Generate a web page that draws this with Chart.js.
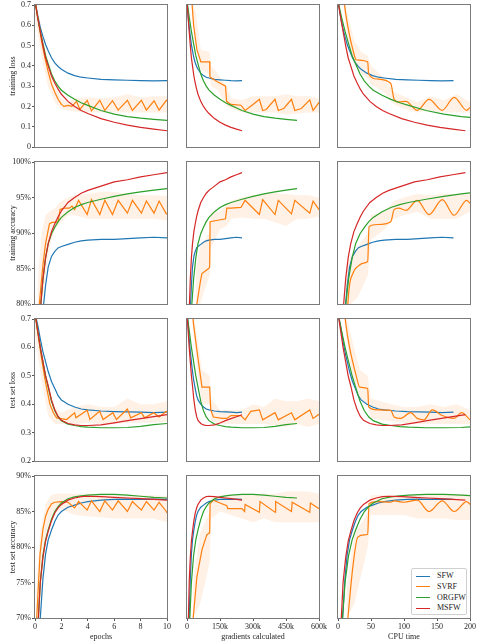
<!DOCTYPE html>
<html>
<head>
<meta charset="utf-8">
<script src="https://cdn.jsdelivr.net/npm/chart.js@4.4.1/dist/chart.umd.min.js"></script>
<style>
  body { margin: 0; background: #fff; width: 479px; height: 642px; position: relative; overflow: hidden;
         font-family: 'Liberation Serif', 'Times New Roman', serif; }
  canvas { position: absolute; }
  #legend { position: absolute; left: 411px; top: 568px; width: 56px; height: 47px; box-sizing: border-box;
            border: 1px solid #d0d0d0; border-radius: 2px; background: rgba(255,255,255,0.85);
            font-size: 8px; color: #222; font-weight: normal; padding: 2px 0 0 4px; }
  #legend div { height: 10.8px; line-height: 10.8px; white-space: nowrap; color: #222; }
  #legend span { display: inline-block; width: 14px; height: 0; border-top: 1.4px solid; vertical-align: middle; margin-right: 7px; }
</style>
</head>
<body>
<div id="legend"></div>
<script>
// ---- data ----
// epoch grid shared by SFW / ORGFW / MSFW
const epochs = [0, 0.2, 0.4, 0.6, 0.8, 1, 1.25, 1.5, 1.75, 2, 2.5, 3, 3.5, 4, 5, 6, 7, 8, 9, 10];
// same points, measured in gradients (thousands) and CPU time
const gradSFW   = [0, 5, 10, 15, 20, 25, 31.25, 37.5, 43.75, 50, 62.5, 75, 87.5, 100, 125, 150, 175, 200, 225, 250];
const gradMSFW  = [0, 5, 10, 15, 20, 25, 31.25, 37.5, 43.75, 50, 62.5, 75, 87.5, 100, 125, 150, 175, 200, 225, 250];
const gradORGFW = [0, 10, 20, 30, 40, 50, 62.5, 75, 87.5, 100, 125, 150, 175, 200, 250, 300, 350, 400, 450, 500];
const timeSFW   = [0, 3.5, 7, 10.5, 14, 17.5, 21.9, 26.3, 30.6, 35, 43.8, 52.5, 61.3, 70, 87.5, 105, 122.5, 140, 157.5, 175];
const timeMSFW  = [0, 3.9, 7.7, 11.6, 15.4, 19.3, 24.1, 29, 33.8, 38.6, 48.3, 57.9, 67.6, 77.2, 96.5, 115.8, 135.1, 154.4, 173.7, 193];
const timeORGFW = [0, 5.3, 10.7, 16, 21.4, 26.7, 33.4, 40, 46.7, 53.4, 66.8, 80.1, 93.5, 106.8, 133.5, 160.2, 186.9, 213.6, 240.3, 267];

// training loss
const lossSFW   = [0.72, 0.65, 0.59, 0.545, 0.505, 0.475, 0.44, 0.415, 0.397, 0.383, 0.364, 0.352, 0.344, 0.34, 0.333, 0.331, 0.329, 0.327, 0.326, 0.327];
const lossORGFW = [0.72, 0.64, 0.57, 0.51, 0.45, 0.41, 0.36, 0.325, 0.3, 0.28, 0.255, 0.235, 0.218, 0.205, 0.18, 0.162, 0.15, 0.142, 0.136, 0.131];
const lossMSFW  = [0.72, 0.64, 0.57, 0.5, 0.44, 0.4, 0.35, 0.315, 0.285, 0.26, 0.225, 0.2, 0.18, 0.165, 0.14, 0.122, 0.108, 0.097, 0.088, 0.08];
// training accuracy (%)
const accSFW    = [60, 68, 74, 79, 82.6, 85.2, 86.7, 87.4, 87.9, 88.1, 88.4, 88.7, 88.9, 89.0, 89.1, 89.1, 89.2, 89.3, 89.4, 89.3];
const accORGFW  = [60, 70, 79, 83.5, 86.5, 88.5, 89.9, 90.8, 91.6, 92.2, 93.0, 93.6, 94.0, 94.3, 94.75, 95.15, 95.5, 95.8, 96.05, 96.25];
const accMSFW   = [60, 70, 79, 83.5, 86.5, 88.5, 90.2, 91.3, 92.3, 93.1, 94.3, 95.0, 95.6, 96.0, 96.6, 97.2, 97.5, 97.9, 98.2, 98.5];
// test set loss
const tlossSFW   = [0.72, 0.68, 0.63, 0.585, 0.55, 0.515, 0.48, 0.455, 0.43, 0.415, 0.4, 0.39, 0.383, 0.38, 0.376, 0.374, 0.373, 0.372, 0.37, 0.372];
const tlossORGFW = [0.72, 0.66, 0.6, 0.55, 0.5, 0.46, 0.41, 0.377, 0.355, 0.342, 0.33, 0.325, 0.321, 0.319, 0.317, 0.317, 0.318, 0.322, 0.328, 0.332];
const tlossMSFW  = [0.72, 0.66, 0.6, 0.55, 0.5, 0.465, 0.415, 0.38, 0.357, 0.343, 0.332, 0.327, 0.325, 0.325, 0.327, 0.334, 0.342, 0.349, 0.356, 0.363];
// test set accuracy (%)
const taccSFW   = [50, 62, 70, 75.5, 79, 81, 82.4, 83.6, 84.5, 85.0, 85.6, 85.9, 86.2, 86.4, 86.6, 86.7, 86.75, 86.7, 86.75, 86.7];
const taccORGFW = [55, 68, 75, 78.8, 81, 82.4, 83.9, 85, 85.7, 86.2, 86.8, 87.05, 87.2, 87.3, 87.4, 87.4, 87.3, 87.15, 87.0, 86.9];
const taccMSFW  = [55, 68, 75, 78.5, 80.8, 82.2, 83.7, 84.8, 85.5, 86.0, 86.6, 86.9, 87.1, 87.15, 87.1, 87.0, 86.9, 86.8, 86.7, 86.6];

// SVRF has its own x points in every panel (full-gradient steps)
const svrfLoss1X = [0, 0.25, 0.5, 0.75, 1, 1.25, 1.5, 1.75, 2, 2.2, 2.5, 2.8, 3.15, 3.4, 3.95, 4.28, 4.91, 5.29, 5.87, 6.3, 7.0, 7.38, 8.06, 8.44, 9.02, 9.4, 9.95, 10];
const svrfLoss1Y = [0.72, 0.62, 0.52, 0.44, 0.37, 0.31, 0.27, 0.235, 0.21, 0.2, 0.205, 0.2, 0.225, 0.185, 0.23, 0.178, 0.23, 0.18, 0.228, 0.182, 0.23, 0.18, 0.23, 0.182, 0.228, 0.182, 0.23, 0.225];
const svrfLoss2X = [20, 30, 45, 63, 103, 104, 140, 175, 180, 200, 245, 264, 300, 329, 344, 360, 400, 415, 440, 475, 490, 520, 558, 573, 600];
const svrfLoss2Y = [0.75, 0.6, 0.48, 0.42, 0.42, 0.345, 0.32, 0.3, 0.225, 0.21, 0.206, 0.18, 0.21, 0.235, 0.18, 0.185, 0.235, 0.18, 0.19, 0.235, 0.18, 0.19, 0.232, 0.18, 0.22];
const svrfLoss3X = [8, 12, 17.5, 22.5, 27.6, 45, 46.5, 60, 80, 85, 92, 103, 120, 138, 158, 176, 195, 200];
const svrfLoss3Y = [0.75, 0.65, 0.55, 0.48, 0.43, 0.42, 0.36, 0.335, 0.313, 0.235, 0.222, 0.225, 0.181, 0.235, 0.181, 0.245, 0.181, 0.195];

const svrfAcc1X = [0, 0.33, 0.6, 0.8, 1.0, 1.1, 1.3, 1.5, 1.75, 1.9, 2.2, 2.6, 2.8, 3.0, 3.3, 3.95, 4.28, 4.91, 5.29, 5.87, 6.3, 7.0, 7.38, 8.06, 8.44, 9.02, 9.4, 9.95, 10];
const svrfAcc1Y = [55, 80, 85.5, 88.5, 90.4, 91.3, 91.5, 91.5, 91.6, 93.3, 93.5, 93.5, 93.8, 93.3, 94.6, 92.6, 94.7, 92.6, 94.6, 92.6, 94.6, 92.8, 94.6, 92.8, 94.5, 92.8, 94.5, 92.7, 92.7];
const svrfAcc2X = [40, 45, 60, 68, 98, 103, 105, 140, 175, 181, 200, 245, 264, 329, 344, 400, 415, 475, 490, 558, 573, 600];
const svrfAcc2Y = [75, 80, 83, 84.3, 85, 85.2, 91.6, 91.8, 92, 93.5, 93.5, 93.6, 94.6, 92.6, 94.7, 92.6, 94.6, 92.7, 94.6, 92.8, 94.5, 93.3];
const svrfAcc3X = [12, 15, 22.5, 30, 40, 45, 47, 60, 80, 85, 92, 103, 120, 138, 158, 176, 195, 200];
const svrfAcc3Y = [70, 80, 84.3, 85.3, 85.8, 86, 90.9, 91.2, 91.6, 93.3, 93.5, 93.2, 94.6, 92.6, 94.7, 92.5, 94.6, 94.2];

const svrfTLoss1X = [0, 0.25, 0.5, 0.75, 1.0, 1.13, 1.39, 1.64, 2.4, 3.0, 3.1, 3.95, 4.16, 4.9, 5.16, 5.9, 6.17, 7.0, 7.25, 8.06, 8.3, 9.0, 9.4, 9.95, 10];
const svrfTLoss1Y = [0.72, 0.64, 0.56, 0.49, 0.43, 0.4, 0.37, 0.352, 0.346, 0.37, 0.352, 0.379, 0.346, 0.375, 0.346, 0.37, 0.346, 0.383, 0.352, 0.37, 0.352, 0.37, 0.355, 0.375, 0.372];
const svrfTLoss2X = [22, 30, 45, 68, 103, 108, 120, 160, 181, 200, 245, 264, 290, 329, 344, 400, 415, 475, 490, 558, 573, 600];
const svrfTLoss2Y = [0.75, 0.68, 0.59, 0.46, 0.46, 0.38, 0.355, 0.35, 0.35, 0.36, 0.36, 0.345, 0.375, 0.38, 0.345, 0.37, 0.345, 0.37, 0.345, 0.38, 0.35, 0.365];
const svrfTLoss3X = [9, 12, 17.5, 27.6, 33, 45, 46.5, 60, 80, 85, 95, 110, 120, 130, 143, 158, 176, 187, 200];
const svrfTLoss3Y = [0.75, 0.68, 0.6, 0.5, 0.46, 0.455, 0.39, 0.38, 0.378, 0.355, 0.35, 0.37, 0.35, 0.345, 0.38, 0.36, 0.35, 0.37, 0.345];

const svrfTAcc1X = [0, 0.13, 0.38, 0.6, 0.8, 1.0, 1.26, 1.5, 2.0, 2.5, 3.0, 3.3, 3.95, 4.28, 4.91, 5.29, 5.87, 6.3, 7.0, 7.38, 8.06, 8.44, 9.02, 9.4, 9.95, 10];
const svrfTAcc1Y = [55, 70, 79, 82.5, 84.3, 85.3, 86.1, 86.3, 86.4, 86.3, 85.5, 86.4, 85.2, 86.5, 85.0, 86.5, 85.2, 86.5, 85.0, 86.4, 85.2, 86.4, 85.2, 86.3, 85.0, 84.8];
const svrfTAcc2X = [28, 45, 68, 90, 103, 105, 120, 150, 181, 185, 250, 262, 264, 329, 332, 400, 403, 475, 478, 558, 561, 600];
const svrfTAcc2Y = [70, 75.8, 79.6, 81.7, 82, 86.1, 86.6, 86.2, 85.8, 85.4, 85.4, 85.0, 86.0, 84.9, 86.4, 84.9, 86.4, 85, 86.3, 84.9, 86.2, 85.4];
const svrfTAcc3X = [13, 15, 22.5, 30, 40, 45, 47, 60, 80, 85, 100, 120, 138, 158, 176, 195, 200];
const svrfTAcc3Y = [68, 70, 77.2, 81.4, 81.7, 81.8, 86.1, 86.4, 86.3, 86.5, 86.3, 86.6, 85.0, 86.5, 85.0, 86.4, 86.0];

// light SVRF spread (shaded band): x, lower edge, upper edge
const bandLoss1X  = [0, 0.5, 1, 1.5, 2, 2.5, 3, 4, 5, 6, 7, 8, 9, 10];
const bandLoss1Lo = [0.65, 0.44, 0.3, 0.22, 0.19, 0.18, 0.175, 0.17, 0.17, 0.17, 0.17, 0.17, 0.17, 0.17];
const bandLoss1Hi = [0.75, 0.58, 0.42, 0.3, 0.24, 0.22, 0.24, 0.245, 0.24, 0.245, 0.26, 0.245, 0.25, 0.25];
const bandLoss2X  = [20, 40, 63, 103, 110, 140, 180, 200, 250, 300, 350, 400, 450, 500, 550, 600];
const bandLoss2Lo = [0.7, 0.5, 0.38, 0.36, 0.3, 0.28, 0.2, 0.19, 0.17, 0.17, 0.17, 0.17, 0.16, 0.165, 0.17, 0.17];
const bandLoss2Hi = [0.75, 0.66, 0.48, 0.47, 0.4, 0.36, 0.3, 0.24, 0.23, 0.25, 0.25, 0.25, 0.26, 0.25, 0.25, 0.24];
const bandLoss3X  = [8, 15, 25, 35, 45, 50, 70, 85, 100, 120, 140, 160, 180, 200];
const bandLoss3Lo = [0.7, 0.52, 0.4, 0.36, 0.34, 0.31, 0.27, 0.21, 0.19, 0.17, 0.18, 0.17, 0.17, 0.17];
const bandLoss3Hi = [0.75, 0.65, 0.52, 0.47, 0.45, 0.4, 0.34, 0.27, 0.25, 0.22, 0.25, 0.23, 0.26, 0.22];

const bandAcc1X  = [0.2, 0.5, 0.8, 1.1, 1.5, 2, 2.5, 3, 4, 5, 6, 7, 8, 9, 10];
const bandAcc1Lo = [80, 80, 84, 88, 90.5, 91.5, 92.5, 92.5, 92, 92, 92, 92, 92, 92, 91.8];
const bandAcc1Hi = [83, 90, 92.5, 93, 93.5, 94.5, 95, 95.3, 95.5, 95.8, 95.8, 95.5, 95.3, 95.3, 95.2];
const bandAcc2X  = [40, 60, 80, 103, 110, 150, 180, 200, 250, 300, 350, 400, 450, 500, 550, 600];
const bandAcc2Lo = [80, 80, 82, 84, 88, 90.5, 91, 92, 92.2, 92, 92, 91.5, 91, 92, 92, 92.3];
const bandAcc2Hi = [85, 88, 89, 90, 93, 93, 94, 94.5, 95, 95.3, 95.5, 95.6, 95.5, 95.3, 95.3, 95];
const bandAcc3X  = [12, 20, 30, 45, 50, 70, 85, 100, 120, 140, 160, 180, 200];
const bandAcc3Lo = [80, 80, 81, 84, 89, 90.5, 92, 92.5, 93, 92, 92, 92, 93];
const bandAcc3Hi = [85, 87, 88, 90, 92.5, 93, 94.5, 95, 95.5, 95.3, 95.5, 95.5, 95.5];

const bandTLoss1X  = [0, 0.5, 1, 1.5, 2, 3, 4, 5, 6, 7, 8, 9, 10];
const bandTLoss1Lo = [0.65, 0.48, 0.36, 0.33, 0.33, 0.33, 0.335, 0.33, 0.33, 0.335, 0.335, 0.335, 0.34];
const bandTLoss1Hi = [0.75, 0.6, 0.46, 0.39, 0.37, 0.39, 0.4, 0.39, 0.39, 0.42, 0.4, 0.4, 0.41];
const bandTLoss2X  = [22, 50, 68, 103, 110, 150, 200, 250, 300, 350, 400, 450, 500, 550, 600];
const bandTLoss2Lo = [0.7, 0.5, 0.4, 0.4, 0.34, 0.33, 0.33, 0.33, 0.33, 0.33, 0.325, 0.32, 0.33, 0.32, 0.33];
const bandTLoss2Hi = [0.75, 0.62, 0.52, 0.5, 0.42, 0.38, 0.38, 0.38, 0.4, 0.39, 0.42, 0.41, 0.41, 0.42, 0.41];
const bandTLoss3X  = [9, 20, 33, 45, 50, 80, 100, 120, 140, 160, 180, 200];
const bandTLoss3Lo = [0.7, 0.52, 0.42, 0.4, 0.35, 0.34, 0.335, 0.33, 0.33, 0.33, 0.33, 0.33];
const bandTLoss3Hi = [0.75, 0.64, 0.52, 0.5, 0.42, 0.4, 0.39, 0.39, 0.4, 0.39, 0.4, 0.38];

const bandTAcc1X  = [0.1, 0.4, 0.8, 1.2, 1.6, 2, 3, 4, 5, 6, 7, 8, 9, 10];
const bandTAcc1Lo = [70, 72, 80, 84, 85.2, 85.3, 84.5, 84.3, 84.2, 84, 84, 84, 84, 83.5];
const bandTAcc1Hi = [74, 82, 86, 87.3, 87.5, 87.5, 87.5, 87.5, 87.5, 87.5, 87.4, 87.3, 87.3, 87.2];
const bandTAcc2X  = [28, 60, 90, 103, 110, 150, 200, 250, 300, 350, 400, 450, 500, 550, 600];
const bandTAcc2Lo = [70, 72, 76, 78, 84, 85, 84.5, 84, 83.5, 84, 83.5, 83.5, 83.5, 83.5, 83.5];
const bandTAcc2Hi = [75, 82, 84, 85, 87, 87.3, 87.3, 87.3, 87.5, 87.5, 87.5, 87.8, 87.8, 87.8, 87.5];
const bandTAcc3X  = [13, 25, 40, 45, 50, 80, 100, 120, 140, 160, 180, 200];
const bandTAcc3Lo = [70, 72, 78, 80, 84.5, 84.5, 84.5, 84, 84, 84, 83.8, 83.8];
const bandTAcc3Hi = [74, 82, 84, 85, 87.3, 87.3, 87.3, 87.5, 87.5, 87.5, 87.5, 87.4];

const methods = ['SFW', 'SVRF', 'ORGFW', 'MSFW'];
const colors = { SFW: '#1f77b4', SVRF: '#ff7f0e', ORGFW: '#2ca02c', MSFW: '#d62728' };
const svrfShade = 'rgba(255, 127, 14, 0.11)';

const xTicksEpoch = [0, 2, 4, 6, 8, 10];
const xTicksGrad = [0, 150, 300, 450, 600];
const xTicksTime = [0, 50, 100, 150, 200];

// ---- layout ----
const colLeft = [35, 187, 338];
const rowTop = [5, 162, 319, 476];
const plotW = 132, plotH = 142, padL = 35, padT = 5, padR = 14, padB = 30;

Chart.defaults.font.family = "'Liberation Serif', 'Times New Roman', serif";
Chart.defaults.font.size = 8;
Chart.defaults.color = '#262626';

const cols = [
  { ticks: xTicksEpoch, title: 'epochs', fmt: v => String(v) },
  { ticks: xTicksGrad, title: 'gradients calculated', fmt: v => v === 0 ? '0' : v + 'k' },
  { ticks: xTicksTime, title: 'CPU time', fmt: v => String(v) },
];
const rows = [
  { min: 0, max: 0.7, step: 0.1, title: 'training loss', fmt: v => String(+v.toFixed(1)) },
  { min: 80, max: 100, step: 5, title: 'training accuracy', fmt: v => v + '%' },
  { min: 0.2, max: 0.7, step: 0.1, title: 'test set loss', fmt: v => String(+v.toFixed(1)) },
  { min: 70, max: 90, step: 5, title: 'test set accuracy', fmt: v => v + '%' },
];

const xsByCol = [
  { SFW: epochs, ORGFW: epochs, MSFW: epochs },
  { SFW: gradSFW, ORGFW: gradORGFW, MSFW: gradMSFW },
  { SFW: timeSFW, ORGFW: timeORGFW, MSFW: timeMSFW },
];
const ysByRow = [
  { SFW: lossSFW, ORGFW: lossORGFW, MSFW: lossMSFW },
  { SFW: accSFW, ORGFW: accORGFW, MSFW: accMSFW },
  { SFW: tlossSFW, ORGFW: tlossORGFW, MSFW: tlossMSFW },
  { SFW: taccSFW, ORGFW: taccORGFW, MSFW: taccMSFW },
];
const svrf = [
  [[svrfLoss1X, svrfLoss1Y], [svrfLoss2X, svrfLoss2Y], [svrfLoss3X, svrfLoss3Y]],
  [[svrfAcc1X, svrfAcc1Y], [svrfAcc2X, svrfAcc2Y], [svrfAcc3X, svrfAcc3Y]],
  [[svrfTLoss1X, svrfTLoss1Y], [svrfTLoss2X, svrfTLoss2Y], [svrfTLoss3X, svrfTLoss3Y]],
  [[svrfTAcc1X, svrfTAcc1Y], [svrfTAcc2X, svrfTAcc2Y], [svrfTAcc3X, svrfTAcc3Y]],
];
const svrfBand = [
  [[bandLoss1X, bandLoss1Lo, bandLoss1Hi], [bandLoss2X, bandLoss2Lo, bandLoss2Hi], [bandLoss3X, bandLoss3Lo, bandLoss3Hi]],
  [[bandAcc1X, bandAcc1Lo, bandAcc1Hi], [bandAcc2X, bandAcc2Lo, bandAcc2Hi], [bandAcc3X, bandAcc3Lo, bandAcc3Hi]],
  [[bandTLoss1X, bandTLoss1Lo, bandTLoss1Hi], [bandTLoss2X, bandTLoss2Lo, bandTLoss2Hi], [bandTLoss3X, bandTLoss3Lo, bandTLoss3Hi]],
  [[bandTAcc1X, bandTAcc1Lo, bandTAcc1Hi], [bandTAcc2X, bandTAcc2Lo, bandTAcc2Hi], [bandTAcc3X, bandTAcc3Lo, bandTAcc3Hi]],
];

function pts(xs, ys) {
  return xs.map((x, i) => ({ x, y: ys[i] }));
}

// box around each plot, like matplotlib spines
const framePlugin = {
  id: 'frame',
  afterDraw(chart) {
    const { ctx, chartArea: a } = chart;
    ctx.save();
    ctx.strokeStyle = '#7a7a7a';
    ctx.lineWidth = 1;
    ctx.strokeRect(a.left - 0.5, a.top - 0.5, a.right - a.left + 1, a.bottom - a.top + 1);
    ctx.restore();
  }
};

function makePanel(r, c) {
  const canvas = document.createElement('canvas');
  canvas.width = plotW + padL + padR;
  canvas.height = plotH + padT + padB;
  canvas.style.left = (colLeft[c] - padL) + 'px';
  canvas.style.top = (rowTop[r] - padT) + 'px';
  document.body.appendChild(canvas);

  const row = rows[r], col = cols[c];
  const bottomRow = r === rows.length - 1, firstCol = c === 0;
  const [bx, blo, bhi] = svrfBand[r][c];

  const datasets = [
    { label: 'svrf-lo', data: pts(bx, blo), borderWidth: 0, pointRadius: 0, fill: false, order: 20 },
    { label: 'svrf-hi', data: pts(bx, bhi), borderWidth: 0, pointRadius: 0, fill: '-1', backgroundColor: svrfShade, order: 19 },
  ];
  methods.forEach((m, i) => {
    const data = m === 'SVRF' ? pts(svrf[r][c][0], svrf[r][c][1]) : pts(xsByCol[c][m], ysByRow[r][m]);
    const ds = {
      label: m,
      data,
      borderColor: colors[m],
      borderWidth: 1.2,
      pointRadius: 0,
      tension: 0,
      fill: false,
      order: methods.length - i,
    };
    // the CPU-time SVRF curves are smooth waves rather than saw teeth
    if (m === 'SVRF' && c === 2) ds.cubicInterpolationMode = 'monotone';
    datasets.push(ds);
  });

  return new Chart(canvas, {
    type: 'line',
    data: { datasets },
    plugins: [framePlugin],
    options: {
      responsive: false,
      animation: false,
      devicePixelRatio: 1,
      layout: { padding: { top: padT, right: padR, left: 0, bottom: 0 } },
      plugins: { legend: { display: false }, tooltip: { enabled: false } },
      scales: {
        x: {
          type: 'linear',
          min: col.ticks[0],
          max: col.ticks[col.ticks.length - 1],
          afterBuildTicks: s => { s.ticks = col.ticks.map(v => ({ value: v })); },
          afterFit: s => { s.height = padB; s.paddingLeft = 0; s.paddingRight = 0; },
          border: { display: false },
          grid: { display: bottomRow, drawOnChartArea: false, tickLength: 3, color: '#555' },
          ticks: { display: bottomRow, padding: 1, maxRotation: 0, autoSkip: false, callback: v => col.fmt(v) },
          title: { display: bottomRow, text: col.title, font: { size: 8 }, padding: { top: 0, bottom: 6 } },
        },
        y: {
          type: 'linear',
          min: row.min,
          max: row.max,
          afterBuildTicks: s => {
            const t = [];
            for (let v = row.min; v <= row.max + 1e-9; v += row.step) t.push({ value: +v.toFixed(2) });
            s.ticks = t;
          },
          afterFit: s => { s.width = padL; s.paddingTop = 0; s.paddingBottom = 0; },
          border: { display: false },
          grid: { display: firstCol, drawOnChartArea: false, tickLength: 3, color: '#555' },
          ticks: { display: firstCol, padding: 1, autoSkip: false, callback: v => row.fmt(v) },
          title: { display: firstCol, text: row.title, font: { size: 8 }, padding: { top: 8, bottom: 0 } },
        },
      },
    },
  });
}

for (let r = 0; r < rows.length; r++) {
  for (let c = 0; c < cols.length; c++) makePanel(r, c);
}

// legend in the bottom-right panel
const legend = document.getElementById('legend');
methods.forEach(m => {
  const d = document.createElement('div');
  const s = document.createElement('span');
  s.style.borderTopColor = colors[m];
  d.appendChild(s);
  d.appendChild(document.createTextNode(m));
  legend.appendChild(d);
});
</script>
</body>
</html>
